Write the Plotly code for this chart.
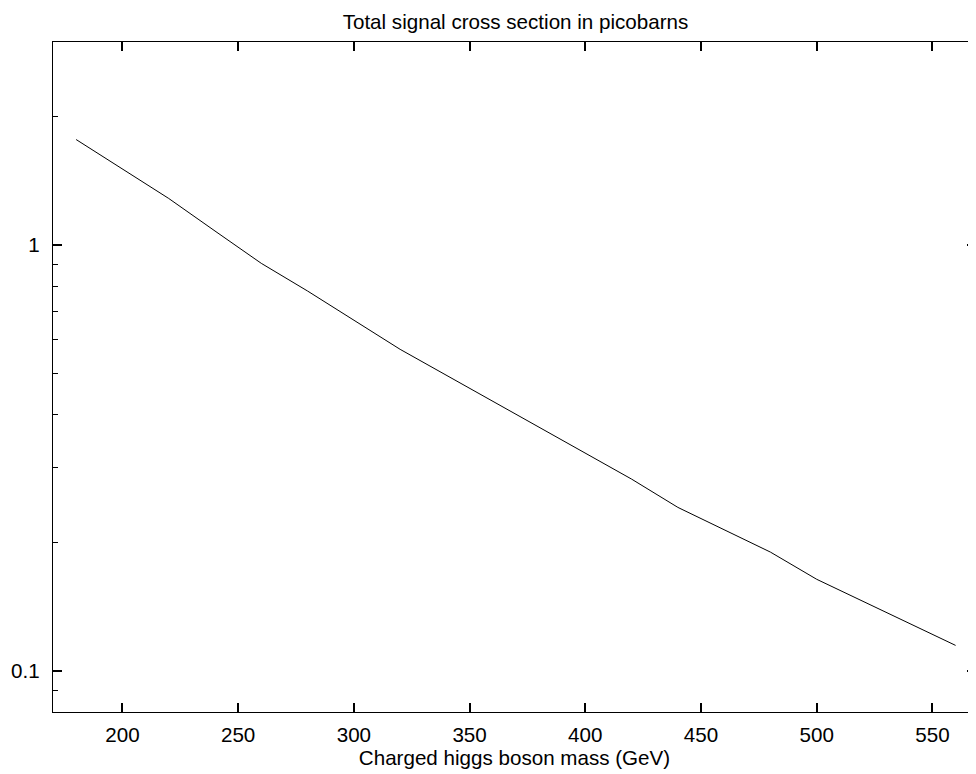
import math
import plotly.graph_objects as go

# Data (mass in GeV, cross section in pb)
mass = [180, 220, 240, 260, 280, 320, 420, 440, 480, 500, 560]
xsec = [1.77, 1.287, 1.079, 0.906, 0.780, 0.569, 0.282, 0.242, 0.190, 0.164, 0.1147]

x_ticks = [200, 250, 300, 350, 400, 450, 500, 550]
y_major = [0.1, 1]
y_major_text = ["0.1", "1"]
y_minor = [0.09, 0.2, 0.3, 0.4, 0.5, 0.6, 0.7, 0.8, 0.9, 2, 3]

FONT = "Liberation Sans, Arial, Helvetica, sans-serif"
FS = 20.6
BODY = 8  # default page margin of the html body
W, H = 976 - BODY, 774 - BODY
ML, MR, MT, MB = 53 - BODY, 0, 42 - BODY, 62
PX_PER_UNIT = 2.3143
x_lo = 170
x_hi = x_lo + (W - ML - MR) / PX_PER_UNIT
y_rng = [math.log10(0.08), math.log10(3)]

fig = go.Figure()
fig.add_trace(go.Scatter(x=mass, y=xsec, mode="lines",
                         line=dict(color="black", width=1),
                         showlegend=False, hoverinfo="skip"))
# invisible copy so that the overlaid tick-mark axes are drawn
fig.add_trace(go.Scatter(x=mass, y=xsec, mode="lines", xaxis="x2", yaxis="y2",
                         line=dict(color="rgba(0,0,0,0)", width=0),
                         showlegend=False, hoverinfo="skip"))

minor = dict(tickmode="array", tickvals=y_minor, ticks="inside",
             ticklen=5, tickwidth=1.3, tickcolor="black", showgrid=False)

fig.update_layout(
    width=W, height=H,
    margin=dict(l=ML, r=MR, t=MT, b=MB, pad=0),
    paper_bgcolor="white", plot_bgcolor="white",
    font=dict(family=FONT, size=FS, color="black"),
    title=dict(text="Total signal cross section in picobarns",
               x=(515.5 - BODY) / W, xanchor="center",
               y=1 - (21.7 - BODY) / H, yanchor="middle", yref="container",
               font=dict(size=FS, family=FONT, color="black")),
    # labelled axes (their outside ticks are transparent spacers)
    xaxis=dict(range=[x_lo, x_hi], tickmode="array", tickvals=x_ticks,
               ticks="outside", ticklen=4, tickcolor="rgba(0,0,0,0)",
               showline=True, linecolor="black", linewidth=1.3, mirror=True,
               showgrid=False, zeroline=False,
               title=dict(text="Charged higgs boson mass (GeV)", standoff=0,
                          font=dict(size=FS, family=FONT))),
    yaxis=dict(type="log", range=y_rng, tickmode="array",
               tickvals=y_major, ticktext=y_major_text,
               ticks="outside", ticklen=8, tickcolor="rgba(0,0,0,0)",
               showline=True, linecolor="black", linewidth=1.3, mirror=False,
               showgrid=False, zeroline=False),
    # tick-mark axes (inside ticks, mirrored on top and right)
    xaxis2=dict(range=[x_lo, x_hi], overlaying="x", side="bottom",
                tickmode="array", tickvals=x_ticks, showticklabels=False,
                ticks="inside", ticklen=9, tickwidth=1.5, tickcolor="black",
                showline=False, mirror="ticks", showgrid=False, zeroline=False),
    yaxis2=dict(type="log", range=y_rng, overlaying="y", side="left",
                tickmode="array", tickvals=y_major, showticklabels=False,
                ticks="inside", ticklen=9, tickwidth=1.5, tickcolor="black",
                showline=False, mirror="ticks", showgrid=False, zeroline=False,
                minor=minor),
)

fig.write_html("out.html")
